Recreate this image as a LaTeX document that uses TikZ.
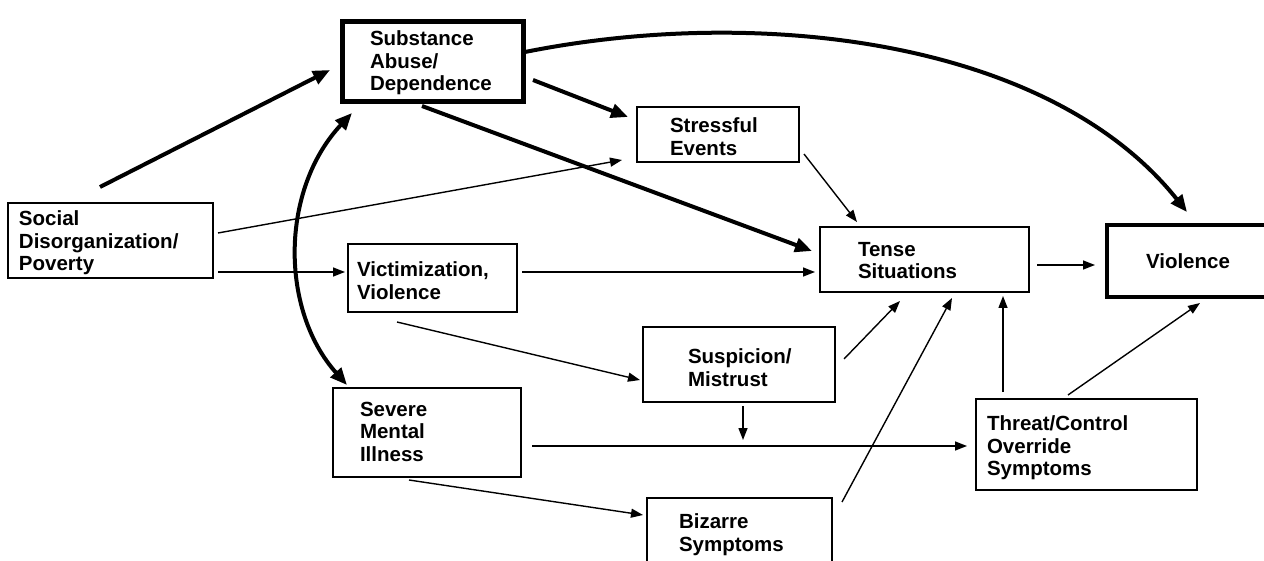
\documentclass[tikz,border=0pt]{standalone}
\usepackage{fontspec}
\setmainfont{Liberation Sans}
\usetikzlibrary{arrows.meta}
\begin{document}
\begin{tikzpicture}[x=1pt,y=-1pt,
  box/.style={draw=black, line width=1.8pt, inner sep=0pt, outer sep=0pt, anchor=north west},
  heavybox/.style={box, line width=5pt},
  midbox/.style={box, line width=3.5pt},
  lbl/.style={anchor=north west, inner sep=0pt, outer sep=0pt, align=left,
    font=\fontsize{20.5}{22.5}\selectfont\bfseries},
  thin/.style={line width=1.4pt, -{Triangle[length=12pt,width=9pt]}},
  thick/.style={line width=4pt, -{Triangle[length=17pt,width=14pt]}},
  thickboth/.style={line width=4pt, {Triangle[length=17pt,width=14pt]}-{Triangle[length=17pt,width=14pt]}}
]
\useasboundingbox (0,0) rectangle (1264,561);
\clip (0,0) rectangle (1264,561);
\fill[white] (0,0) rectangle (1264,561);

% boxes
\node[box, minimum width=205pt, minimum height=75pt] (social) at (8,203) {};
\node[heavybox, minimum width=181pt, minimum height=80pt] (subst) at (342,22) {};
\node[box, minimum width=162pt, minimum height=55pt] (stress) at (637,107) {};
\node[box, minimum width=169pt, minimum height=68pt] (victim) at (348,244) {};
\node[box, minimum width=209pt, minimum height=65pt] (tense) at (820,227) {};
\node[midbox, minimum width=170pt, minimum height=72pt] (viol) at (1107,225) {};
\node[box, minimum width=192pt, minimum height=75pt] (susp) at (643,327) {};
\node[box, minimum width=188pt, minimum height=89pt] (severe) at (333,388) {};
\node[box, minimum width=221pt, minimum height=91pt] (threat) at (976,399) {};
\node[box, minimum width=185pt, minimum height=85pt] (bizarre) at (647,498) {};

% labels
\node[lbl] (socialT) at (19,211) {Social\\Disorganization/\\Poverty};
\node[lbl] (substT) at (370,31) {Substance\\Abuse/\\Dependence};
\node[lbl] (stressT) at (670,118) {Stressful\\Events};
\node[lbl] (victimT) at (357,262) {Victimization,\\Violence};
\node[lbl] (tenseT) at (858,242) {Tense\\Situations};
\node[lbl] (violT) at (1146,254) {Violence};
\node[lbl] (suspT) at (688,349) {Suspicion/\\Mistrust};
\node[lbl] (severeT) at (360,402) {Severe\\Mental\\Illness};
\node[lbl] (threatT) at (987,416) {Threat/Control\\Override\\Symptoms};
\node[lbl] (bizarreT) at (679,514) {Bizarre\\Symptoms};

\coordinate (meet) at (743,440);

% thick connectors
\draw[thick] ([shift={(92,-16)}]social.north west) -- ([shift={(-12,48)}]subst.north west);
\draw[thick] ([shift={(191,58)}]subst.north west) -- ([shift={(-9,10)}]stress.north west);
\draw[thick] ([shift={(80,84)}]subst.north west) -- ([shift={(-8,24)}]tense.north west);
\draw[thick] ([shift={(183,30)}]subst.north west) .. controls +(235,-47) and +(-137,-172) .. ([shift={(80,-13)}]viol.north west);
\draw[thickboth] ([shift={(10,91)}]subst.north west) .. controls +(-72,77) and +(-67,-75) .. ([shift={(14,-3)}]severe.north west);

% thin connectors
\draw[thin] ([shift={(210,30)}]social.north west) -- ([shift={(-15,53)}]stress.north west);
\draw[thin] ([shift={(210,69)}]social.north west) -- ([shift={(-3,28)}]victim.north west);
\draw[thin] ([shift={(167,47)}]stress.north west) -- ([shift={(37,-5)}]tense.north west);
\draw[thin] ([shift={(174,28)}]victim.north west) -- ([shift={(-5,45)}]tense.north west);
\draw[thin] ([shift={(49,78)}]victim.north west) -- ([shift={(-3,53)}]susp.north west);
\draw[thin] ([shift={(217,38)}]tense.north west) -- ([shift={(-12,40)}]viol.north west);
\draw[thin] ([shift={(201,32)}]susp.north west) -- ([shift={(80,74)}]tense.north west);
\draw[thin] ([shift={(195,4)}]bizarre.north west) -- ([shift={(132,71)}]tense.north west);
\draw[thin] ([shift={(27,-7)}]threat.north west) -- ([shift={(183,69)}]tense.north west);
\draw[thin] ([shift={(92,-4)}]threat.north west) -- ([shift={(93,78)}]viol.north west);
\draw[thin] ([shift={(199,58)}]severe.north west) -- ([shift={(-9,47)}]threat.north west);
\draw[thin] ([shift={(100,79)}]susp.north west) -- (meet);
\draw[thin] ([shift={(76,92)}]severe.north west) -- ([shift={(-4,17)}]bizarre.north west);
\end{tikzpicture}
\end{document}
